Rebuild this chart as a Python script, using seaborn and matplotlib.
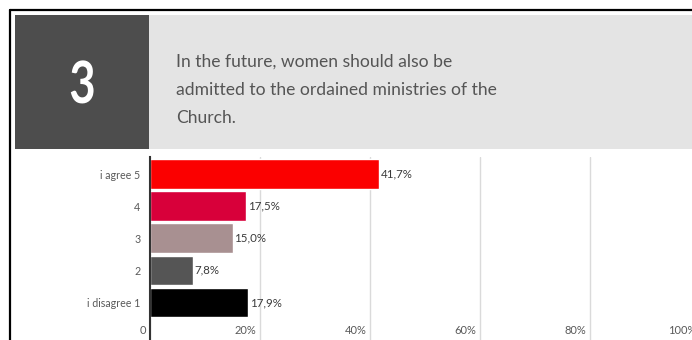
import matplotlib
matplotlib.use("Agg")
import matplotlib.pyplot as plt
from matplotlib.lines import Line2D
from matplotlib.patches import Rectangle
from matplotlib.patheffects import AbstractPathEffect
from matplotlib.transforms import Affine2D
import seaborn as sns
import pandas as pd

# Survey answers, question 3
categories = ["i agree 5", "4", "3", "2", "i disagree 1"]
shares = [41.7, 17.5, 15.0, 7.8, 17.9]
bar_colors = ["#fb0000", "#d8003a", "#a89091", "#555555", "#000000"]
x_ticks = [0, 20, 40, 60, 80, 100]
x_tick_labels = ["0", "20%", "40%", "60%", "80%", "100%"]
question_number = "3"
question_lines = [
    "In the future, women should also be",
    "admitted to the ordained ministries of the",
    "Church.",
]

df = pd.DataFrame({"answer": categories, "share": shares})

sns.set_theme(style="white")
plt.rcParams["font.family"] = ["Lato", "DejaVu Sans"]

W, H = 692, 340
DPI = 100
fig = plt.figure(figsize=(W / DPI, H / DPI), dpi=DPI)
fig.patch.set_facecolor("white")


def fx(px):
    return px / W


def fy(py):
    return 1 - py / H


class Narrow(AbstractPathEffect):
    """Squeeze glyphs horizontally about a fixed pixel column."""

    def __init__(self, factor, center_px):
        super().__init__()
        self.factor = factor
        self.center_px = center_px

    def draw_path(self, renderer, gc, tpath, affine, rgbFace=None):
        squeeze = (Affine2D().translate(-self.center_px, 0)
                   .scale(self.factor, 1).translate(self.center_px, 0))
        renderer.draw_path(gc, tpath, affine + squeeze, rgbFace)


# Header band: dark number box and light question box
fig.add_artist(Rectangle((fx(149), fy(149)), fx(W - 149), fy(15) - fy(149),
                         transform=fig.transFigure, facecolor="#e4e4e4",
                         edgecolor="none", zorder=0))
fig.add_artist(Rectangle((fx(15), fy(149)), fx(149 - 15), fy(15) - fy(149),
                         transform=fig.transFigure, facecolor="#4d4d4d",
                         edgecolor="none", zorder=1))
num_x = 82.5
fig.text(fx(num_x), fy(103), question_number, ha="center", va="baseline",
         color="white", fontsize=42, fontweight="bold", zorder=2,
         path_effects=[Narrow(0.78, num_x)])
for i, line in enumerate(question_lines):
    fig.text(fx(176), fy(67 + 28 * i), line, ha="left", va="baseline",
             color="#555555", fontsize=12.6, zorder=2)

# Frame around the card
fig.add_artist(Line2D([fx(10), 1.0], [fy(10), fy(10)], transform=fig.transFigure,
                      color="black", lw=1.6, zorder=3))
fig.add_artist(Line2D([fx(10), fx(10)], [fy(10), 0.0], transform=fig.transFigure,
                      color="black", lw=1.6, zorder=3))

# Bar chart
ax = fig.add_axes([fx(150), 0.0, fx(550), fy(157)])
ax.set_facecolor("none")
sns.barplot(data=df, x="share", y="answer", hue="answer", palette=bar_colors,
            orient="h", width=0.92, legend=False, saturation=1, ax=ax)

ax.set_xlim(0, 100)
ax.set_ylim(5.17, -0.53)
ax.set_xticks(x_ticks)
ax.set_xticklabels([])
ax.grid(axis="x", color="#dadada", lw=1)
ax.set_axisbelow(True)
ax.tick_params(axis="x", length=0)
ax.tick_params(axis="y", length=0, pad=7, labelsize=7.7, labelcolor="#595959")
ax.set_xlabel("")
ax.set_ylabel("")
for side in ["top", "right", "bottom"]:
    ax.spines[side].set_visible(False)
ax.spines["left"].set_color("#333333")
ax.spines["left"].set_linewidth(1.5)

for container in ax.containers:
    vals = container.datavalues
    ax.bar_label(container, labels=[f"{v:.1f}%".replace(".", ",") for v in vals],
                 padding=1, fontsize=8.3, color="#3a3a3a")

# Percentage scale labels sit inside the plot, just left of each gridline
for xv, lab in zip(x_ticks, x_tick_labels):
    ax.annotate(lab, xy=(xv, 4.86), xytext=(-2.5, 0), textcoords="offset points",
                ha="right", va="center", fontsize=8, color="#595959",
                annotation_clip=False)

fig.savefig("out.png", dpi=DPI)
